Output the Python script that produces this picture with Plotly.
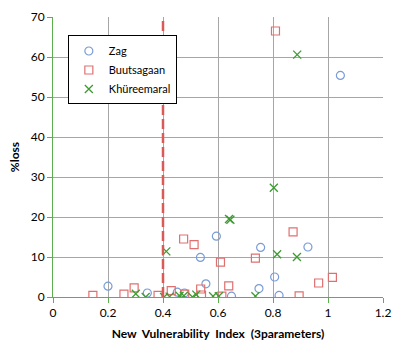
import plotly.graph_objects as go

zag_x = [0.20, 0.343, 0.452, 0.478, 0.536, 0.556, 0.594, 0.649, 0.749, 0.755, 0.806, 0.822, 0.927, 1.045]
zag_y = [2.7, 1.0, 1.2, 1.0, 9.9, 3.3, 15.2, 0.2, 2.1, 12.4, 5.0, 0.4, 12.5, 55.4]

buu_x = [0.145, 0.258, 0.295, 0.382, 0.43, 0.475, 0.479, 0.513, 0.537, 0.54, 0.609, 0.614, 0.639, 0.736, 0.809, 0.873, 0.895, 0.966, 1.016]
buu_y = [0.4, 0.7, 2.3, 0.4, 1.6, 14.5, 0.7, 13.1, 2.0, 0.5, 8.7, 0.2, 2.8, 9.7, 66.5, 16.3, 0.3, 3.5, 4.9]

khu_x = [0.301, 0.337, 0.404, 0.412, 0.424, 0.46, 0.476, 0.507, 0.521, 0.582, 0.603, 0.64, 0.645, 0.736, 0.803, 0.815, 0.887, 0.888]
khu_y = [0.8, 0.0, 0.0, 11.4, 0.1, 0.3, 0.3, 0.0, 0.6, 0.2, 0.2, 19.5, 19.3, 0.2, 27.3, 10.7, 10.0, 60.6]

threshold_x = 0.4
x_ticks = [0, 0.2, 0.4, 0.6, 0.8, 1.0, 1.2]
x_tick_labels = ["0", "0.2", "0.4", "0.6", "0.8", "1", "1.2"]
y_ticks = [0, 10, 20, 30, 40, 50, 60, 70]

FONT = "Lato, 'Open Sans', sans-serif"
GREEN_AX = "#5DAE4F"

fig = go.Figure()
fig.add_trace(go.Scatter(x=zag_x, y=zag_y, mode="markers", name="Zag",
                         marker=dict(symbol="circle-open", size=8, color="#7A9CD6", line=dict(width=1.2))))
fig.add_trace(go.Scatter(x=buu_x, y=buu_y, mode="markers", name="Buutsagaan",
                         marker=dict(symbol="square-open", size=8, color="#E07070", line=dict(width=1.2))))
fig.add_trace(go.Scatter(x=khu_x, y=khu_y, mode="markers", name="Khüreemaral",
                         marker=dict(symbol="x-thin-open", size=8, color="#3E9A32", line=dict(width=1.3))))

fig.add_shape(type="line", x0=threshold_x, x1=threshold_x, y0=0, y1=70, xref="x", yref="y",
              line=dict(color="#DA5A55", width=2.5, dash="10px,4px"))

fig.update_layout(
    width=400, height=348,
    margin=dict(l=53, r=17, t=9, b=51),
    paper_bgcolor="white", plot_bgcolor="white",
    font=dict(family=FONT, size=12, color="#000000"),
    showlegend=True,
    legend=dict(x=0.045, y=0.934, xanchor="left", yanchor="top",
                bgcolor="white", bordercolor="black", borderwidth=1,
                font=dict(size=11), tracegroupgap=0, itemwidth=30),
    xaxis=dict(range=[0, 1.2], tickvals=x_ticks, ticktext=x_tick_labels,
               showgrid=True, gridcolor="#A6A6A6", gridwidth=1,
               zeroline=False, showline=True, linecolor=GREEN_AX, linewidth=1,
               ticks="outside", ticklen=5, tickcolor=GREEN_AX,
               title=dict(text="<b>New\u00a0\u00a0Vulnerability\u00a0\u00a0Index\u00a0\u00a0(3parameters)</b>",
                          font=dict(size=12), standoff=10),
               mirror=False),
    yaxis=dict(range=[0, 70], tickvals=y_ticks,
               showgrid=True, gridcolor="#A6A6A6", gridwidth=1,
               zeroline=False, showline=True, linecolor=GREEN_AX, linewidth=1,
               ticks="outside", ticklen=5, tickcolor=GREEN_AX,
               title=dict(text="<b>%loss</b>", font=dict(size=12), standoff=8)),
)

fig.write_html("out.html")
